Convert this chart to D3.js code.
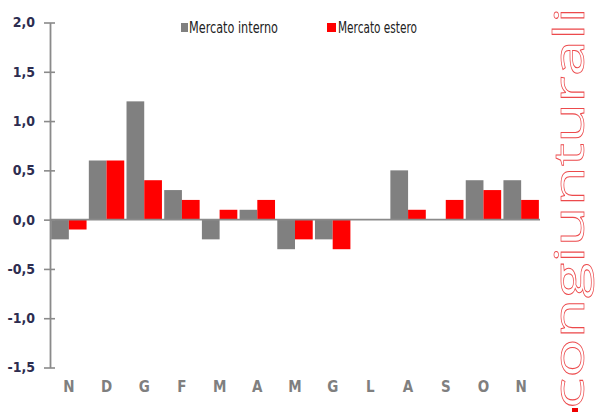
<!DOCTYPE html>
<html><head><meta charset="utf-8">
<script src="https://cdn.jsdelivr.net/npm/d3@7"></script>
<style>body{margin:0;background:#fff}svg{display:block}</style>
</head><body>
<script>
const categories = ["N","D","G","F","M","A","M","G","L","A","S","O","N"];
const seriesNames = ["Mercato interno","Mercato estero"];
const interno = [-0.2,0.6,1.2,0.3,-0.2,0.1,-0.3,-0.2,0,0.5,0,0.4,0.4];
const estero  = [-0.1,0.6,0.4,0.2,0.1,0.2,-0.2,-0.3,0,0.1,0.2,0.3,0.2];
const yTicks = [-1.5,-1.0,-0.5,0,0.5,1.0,1.5,2.0];
const colors = ["#808080","#ff0000"];

const W=598,H=412;
const svg=d3.select("body").append("svg").attr("width",W).attr("height",H);
const narrow="'Liberation Sans Narrow','Arial Narrow','DejaVu Sans Condensed',sans-serif";

const y=d3.scaleLinear().domain([-1.5,2.0]).range([367.5,22.5]);
const x=d3.scaleBand().domain(d3.range(categories.length)).range([50,540]).paddingInner(0.06).paddingOuter(0.03);
const xs=d3.scaleBand().domain([0,1]).range([0,x.bandwidth()]);

const rows=categories.map((c,i)=>({i,vals:[interno[i],estero[i]]}));
const g=svg.append("g");
g.selectAll("g.grp").data(rows).join("g").attr("transform",d=>`translate(${x(d.i)},0)`)
 .selectAll("rect").data(d=>d.vals.map((v,k)=>({v,k}))).join("rect")
 .attr("x",d=>xs(d.k)).attr("width",xs.bandwidth())
 .attr("y",d=>y(Math.max(0,d.v))).attr("height",d=>Math.abs(y(d.v)-y(0)))
 .attr("fill",d=>colors[d.k]);

// zero line
svg.append("line").attr("x1",50).attr("x2",540).attr("y1",y(0)).attr("y2",y(0))
 .attr("stroke","#8a8a8a").attr("stroke-width",1.6);

// y axis
const yAxis=d3.axisLeft(y).tickValues(yTicks).tickSize(0).tickFormat(d=>d3.format(".1f")(d).replace(".",",").replace("\u2212","-"));
const ya=svg.append("g").attr("transform","translate(50,0)").call(yAxis);
ya.select(".domain").attr("stroke","#8a8a8a").attr("stroke-width",1.8);
ya.selectAll(".tick text").attr("x",-15).attr("fill","#2d2d50").attr("font-family",narrow).attr("font-size",14).attr("font-weight","bold");
ya.selectAll(".tick").append("line").attr("x1",-6).attr("x2",5).attr("stroke","#8a8a8a").attr("stroke-width",1.6);

// x labels
const xAxis=d3.axisBottom(x).tickSize(0).tickFormat(i=>categories[i]);
const xa=svg.append("g").attr("transform","translate(0,378)").call(xAxis);
xa.select(".domain").remove();
xa.selectAll(".tick text").attr("y",3).attr("fill","#7f7f7f").attr("font-family",narrow).attr("font-size",15).attr("font-weight","bold");

// legend
const legX=[181,327];
seriesNames.forEach((n,k)=>{
  svg.append("rect").attr("x",legX[k]).attr("y",23).attr("width",k?9:7).attr("height",9).attr("fill",colors[k]);
  svg.append("text").attr("x",legX[k]+(k?11:8)).attr("y",33).attr("font-family",narrow).attr("font-size",15)
   .attr("fill","#222").attr("textLength",k?79:89).attr("lengthAdjust","spacingAndGlyphs").text(n);
});

// cut-off title descenders (title lies above the visible area in the reference)
const titleFont="'Liberation Sans',Arial,sans-serif";
[[4,-4,"p"],[130,-6,","],[255,-6,","]].forEach(([tx,ty,s])=>{
  svg.append("text").attr("x",tx).attr("y",ty).attr("font-family",titleFont).attr("font-weight","bold")
   .attr("font-size",16).attr("fill","#1f4e8c").text(s);
});

// vertical watermark text (outlined)
svg.append("text").attr("transform","translate(584,409) rotate(-90)")
 .attr("font-family","'Open Sans',sans-serif").attr("font-weight",400).attr("font-size",42)
 .attr("fill","#fff").attr("stroke","#ec4a4c").attr("stroke-width",0.7)
 .attr("textLength",402).attr("lengthAdjust","spacingAndGlyphs").text("congiunturali");
svg.append("rect").attr("x",572).attr("y",408).attr("width",6).attr("height",4).attr("fill","#e00");
</script>
</body></html>
